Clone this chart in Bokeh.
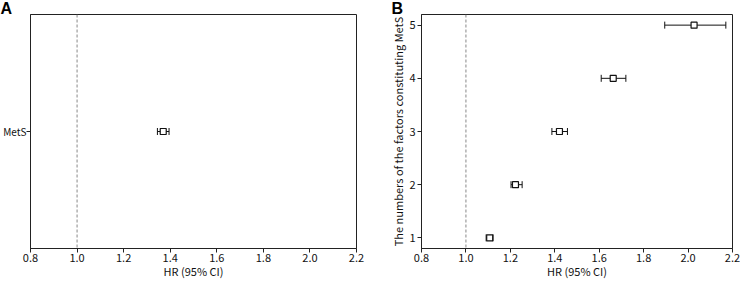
from bokeh.plotting import figure
from bokeh.layouts import row
from bokeh.models import Whisker, Span, FixedTicker, ColumnDataSource, TeeHead
from bokeh.embed import file_html
from bokeh.resources import INLINE

FONT = "Noto Sans CJK JP"

# Panel A data
a_labels = ["MetS"]
a_pos = [1]
a_hr = [1.37]
a_lo = [1.345]
a_hi = [1.395]

# Panel B data
b_factors = [1, 2, 3, 4, 5]
b_hr = [1.107, 1.223, 1.421, 1.663, 2.027]
b_lo = [1.091, 1.203, 1.387, 1.609, 1.895]
b_hi = [1.122, 1.253, 1.457, 1.720, 2.170]

x_ticks = [0.8, 1.0, 1.2, 1.4, 1.6, 1.8, 2.0, 2.2]
x_tick_labels = ["0.8", "1.0", "1.2", "1.4", "1.6", "1.8", "2.0", "2.2"]


def style(p, letter, offset):
    p.xgrid.visible = False
    p.ygrid.visible = False
    p.outline_line_color = "#222222"
    p.outline_line_width = 1
    p.background_fill_color = "white"
    p.border_fill_color = "white"
    for ax in p.axis:
        ax.axis_line_color = "#222222"
        ax.major_tick_line_color = "#222222"
        ax.minor_tick_line_color = None
        ax.major_tick_in = 0
        ax.major_tick_out = 4
        ax.major_label_text_font = FONT
        ax.major_label_text_font_size = "11px"
        ax.major_label_text_color = "#111111"
        ax.axis_label_text_font = FONT
        ax.axis_label_text_font_size = "11px"
        ax.axis_label_text_font_style = "normal"
        ax.axis_label_text_color = "#111111"
        ax.major_label_standoff = 2
        ax.axis_label_standoff = 0
    p.xaxis.major_label_standoff = 1
    p.xaxis.axis_label_standoff = -2
    p.xaxis.ticker = FixedTicker(ticks=x_ticks)
    p.xaxis.major_label_overrides = {x_ticks[i]: x_tick_labels[i] for i in range(len(x_ticks))}
    p.xaxis.axis_label = "HR (95% CI)"
    p.add_layout(Span(location=1.0, dimension="height", line_color="#888888",
                      line_dash="3 2", line_width=1))
    p.title.text = letter
    p.title.text_font = "Liberation Sans"
    p.title.text_font_size = "16px"
    p.title.text_font_style = "bold"
    p.title.text_color = "black"
    p.title.align = "left"
    p.title.vertical_align = "bottom"
    p.title.offset = offset
    p.title.standoff = -5


def forest(p, ys, hr, lo, hi):
    src = ColumnDataSource(dict(y=ys, hr=hr, lo=lo, hi=hi))
    w = Whisker(source=src, base="y", lower="lo", upper="hi", dimension="width",
                line_color="#111111", line_width=1,
                lower_head=TeeHead(size=7, line_color="#111111", line_width=1),
                upper_head=TeeHead(size=7, line_color="#111111", line_width=1))
    p.add_layout(w)
    p.scatter(x="hr", y="y", source=src, marker="square", size=6,
              fill_color="white", line_color="#111111", line_width=1.2)


pA = figure(width=370, height=281, x_range=(0.8, 2.2), y_range=(0, 2),
            output_backend="svg", toolbar_location=None,
            min_border_left=30, min_border_right=14, min_border_top=0, min_border_bottom=30)
style(pA, "A", -30)
pA.yaxis.major_label_standoff = 0
pA.yaxis.major_label_text_font_size = "10px"
pA.yaxis.ticker = FixedTicker(ticks=a_pos)
pA.yaxis.major_label_overrides = {a_pos[i]: a_labels[i] for i in range(len(a_pos))}
forest(pA, a_pos, a_hr, a_lo, a_hi)

pB = figure(width=370, height=281, x_range=(0.8, 2.2), y_range=(0.8, 5.2),
            output_backend="svg", toolbar_location=None,
            min_border_left=51, min_border_right=8, min_border_top=0, min_border_bottom=30)
style(pB, "B", -30)
pB.yaxis.ticker = FixedTicker(ticks=b_factors)
pB.yaxis.axis_label = "The numbers of the factors constituting MetS"
forest(pB, b_factors, b_hr, b_lo, b_hi)

layout = row(pA, pB)
open("out.html", "w").write(file_html(layout, INLINE))
